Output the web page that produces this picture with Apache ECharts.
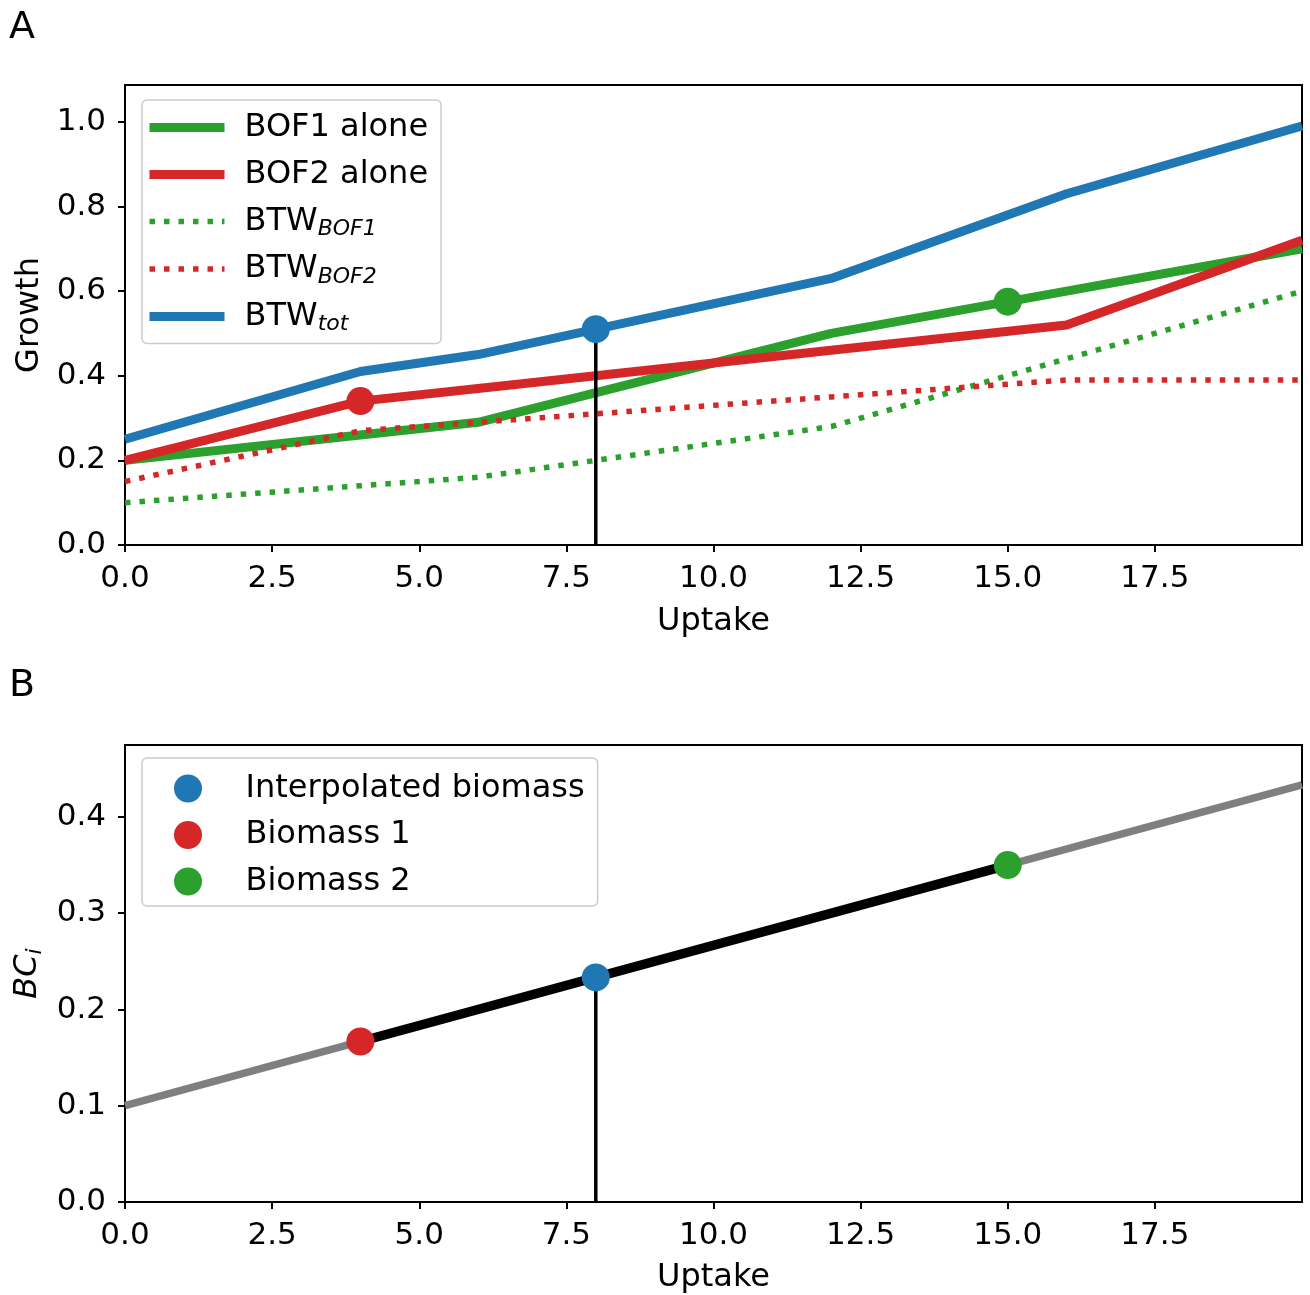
<!DOCTYPE html>
<html>
<head>
<meta charset="utf-8">
<script src="https://cdn.jsdelivr.net/npm/echarts@6/dist/echarts.min.js"></script>
<style>
html,body{margin:0;padding:0;background:#fff;}
#chart{width:1310px;height:1295px;}
</style>
</head>
<body>
<div id="chart"></div>
<script>
// ---------- data ----------
const uptake      = [0, 4, 6, 12, 16, 20];
const bof1Alone   = [0.20, 0.26, 0.29, 0.50, 0.60, 0.70];
const bof2Alone   = [0.20, 0.34, 0.37, 0.46, 0.52, 0.72];
const btwBof1     = [0.10, 0.14, 0.16, 0.28, 0.44, 0.60];
const btwBof2     = [0.15, 0.27, 0.29, 0.35, 0.39, 0.39];
const btwTot      = [0.25, 0.41, 0.45, 0.63, 0.83, 0.99];

const selUptake   = 8;          // interpolation uptake
const bio1Point   = [4, 0.34];  // panel A marker on BOF2 alone
const bio2Point   = [15, 0.575];// panel A marker on BOF1 alone
const totPoint    = [8, 0.51];  // panel A marker on BTW_tot

const bcLineX     = [0, 20];
const bcLineY     = [0.1, 0.4333];
const bcSegX      = [4, 15];
const bcSegY      = [0.1667, 0.35];
const interpPoint = [8, 0.2333];
const bcBio1      = [4, 0.1667];
const bcBio2      = [15, 0.35];

const xTicks  = [0, 2.5, 5, 7.5, 10, 12.5, 15, 17.5];
const yTicksA = [0, 0.2, 0.4, 0.6, 0.8, 1.0];
const yTicksB = [0, 0.1, 0.2, 0.3, 0.4];

// ---------- style ----------
const FONT = 'DejaVu Sans';
const C = {blue:'#1f77b4', green:'#2ca02c', red:'#d62728', gray:'#7f7f7f'};
const zip = (xs, ys) => xs.map((x, i) => [x, ys[i]]);

const chart = echarts.init(document.getElementById('chart'), null, {renderer:'canvas'});

function xAxisCfg(idx, gap) {
  return {
    type:'value', gridIndex: idx, min:0, max:20,
    name:'Uptake', nameLocation:'middle', nameGap:gap,
    nameTextStyle:{fontFamily:FONT, fontSize:32, color:'#000'},
    axisLine:{show:true, onZero:false, lineStyle:{color:'#000', width:2}},
    axisTick:{show:true, inside:false, length:7, lineStyle:{color:'#000', width:2}, customValues:xTicks},
    axisLabel:{show:true, margin:18, fontFamily:FONT, fontSize:31, color:'#000', customValues:xTicks,
      formatter:v => v.toFixed(1)},
    splitLine:{show:false}
  };
}
function yAxisCfg(idx, max, ticks, name, nameRich) {
  const cfg = {
    type:'value', gridIndex: idx, min:0, max:max,
    name:name, nameLocation:'middle', nameGap:75, nameRotate:90,
    nameTextStyle:{fontFamily:FONT, fontSize:32, color:'#000'},
    axisLine:{show:true, onZero:false, lineStyle:{color:'#000', width:2}},
    axisTick:{show:true, inside:false, length:7, lineStyle:{color:'#000', width:2}, customValues:ticks},
    axisLabel:{show:true, margin:19, fontFamily:FONT, fontSize:31, color:'#000', customValues:ticks,
      formatter:v => v.toFixed(1)},
    splitLine:{show:false}
  };
  if (nameRich) cfg.nameTextStyle.rich = nameRich;
  return cfg;
}

function legendFormatter(name) {
  const m = name.match(/^BTW_(.+)$/);
  if (m) return '{m|BTW}{s|' + m[1] + '}';
  return '{m|' + name + '}';
}
const legendRich = {
  m:{fontFamily:FONT, fontSize:32, color:'#000', lineHeight:37, height:37},
  s:{fontFamily:FONT, fontSize:22, fontStyle:'italic', color:'#000', lineHeight:21, height:21, verticalAlign:'bottom'}
};

const option = {
  backgroundColor:'#fff',
  animation:false,
  title:[
    {text:'A', left:4, top:4, textStyle:{fontFamily:FONT, fontSize:38, fontWeight:'normal', color:'#000'}},
    {text:'B', left:4, top:662, textStyle:{fontFamily:FONT, fontSize:38, fontWeight:'normal', color:'#000'}}
  ],
  grid:[
    {left:125, top:85, width:1177, height:460, show:true, borderColor:'#000', borderWidth:2, backgroundColor:'transparent'},
    {left:125, top:745, width:1177, height:459, show:true, borderColor:'#000', borderWidth:2, backgroundColor:'transparent'}
  ],
  xAxis:[xAxisCfg(0, 61), xAxisCfg(1, 60)],
  yAxis:[
    yAxisCfg(0, 1.087, yTicksA, 'Growth'),
    yAxisCfg(1, 0.4747, yTicksB, '{a|BC}{b|i}', {
      a:{fontFamily:FONT, fontSize:32, fontStyle:'italic', color:'#000', lineHeight:37},
      b:{fontFamily:FONT, fontSize:22, fontStyle:'italic', color:'#000', lineHeight:22, verticalAlign:'bottom'}
    })
  ],
  legend:[
    {
      orient:'vertical', left:142, top:100,
      itemWidth:75, itemHeight:14, itemGap:10,
      padding:[9, 13, 8, 3],
      backgroundColor:'rgba(255,255,255,0.85)', borderColor:'#cccccc', borderWidth:1.5, borderRadius:5,
      lineStyle:{width:'inherit', type:'inherit'},
      itemStyle:{opacity:0},
      data:['BOF1 alone','BOF2 alone','BTW_BOF1','BTW_BOF2','BTW_tot'],
      formatter:legendFormatter,
      textStyle:{padding:[0,0,0,15], lineHeight:37, height:37, rich:legendRich},
      selectedMode:false
    },
    {
      orient:'vertical', left:142, top:758,
      itemWidth:75, itemHeight:28, itemGap:9.5,
      padding:[12, 13, 6, 32],
      icon:'circle',
      backgroundColor:'rgba(255,255,255,0.85)', borderColor:'#cccccc', borderWidth:1.5, borderRadius:5,
      data:['Interpolated biomass','Biomass 1','Biomass 2'],
      formatter:legendFormatter,
      textStyle:{padding:[0,0,0,15], lineHeight:37, height:37, rich:legendRich},
      selectedMode:false
    }
  ],
  series:[
    // ----- panel A -----
    {name:'BOF1 alone', type:'line', xAxisIndex:0, yAxisIndex:0, symbol:'none', clip:true, z:2,
      data:zip(uptake, bof1Alone), lineStyle:{color:C.green, width:9, join:'round'}, itemStyle:{color:C.green}},
    {name:'BOF2 alone', type:'line', xAxisIndex:0, yAxisIndex:0, symbol:'none', clip:true, z:2,
      data:zip(uptake, bof2Alone), lineStyle:{color:C.red, width:9, join:'round'}, itemStyle:{color:C.red}},
    {name:'BTW_BOF1', type:'line', xAxisIndex:0, yAxisIndex:0, symbol:'none', clip:true, z:2,
      data:zip(uptake, btwBof1), lineStyle:{color:C.green, width:5.5, type:[5.5, 9], cap:'butt'}, itemStyle:{color:C.green}},
    {name:'BTW_BOF2', type:'line', xAxisIndex:0, yAxisIndex:0, symbol:'none', clip:true, z:2,
      data:zip(uptake, btwBof2), lineStyle:{color:C.red, width:5.5, type:[5.5, 9], cap:'butt'}, itemStyle:{color:C.red}},
    {name:'BTW_tot', type:'line', xAxisIndex:0, yAxisIndex:0, symbol:'none', clip:true, z:2,
      data:zip(uptake, btwTot), lineStyle:{color:C.blue, width:9, join:'round'}, itemStyle:{color:C.blue}},
    {name:'vlineA', type:'line', xAxisIndex:0, yAxisIndex:0, symbol:'none', z:3,
      data:[[selUptake, 0], [selUptake, totPoint[1]]], lineStyle:{color:'#000', width:3.5}},
    {name:'markA1', type:'scatter', xAxisIndex:0, yAxisIndex:0, symbolSize:28, z:4,
      data:[bio1Point], itemStyle:{color:C.red, opacity:1}},
    {name:'markA2', type:'scatter', xAxisIndex:0, yAxisIndex:0, symbolSize:28, z:4,
      data:[totPoint], itemStyle:{color:C.blue, opacity:1}},
    {name:'markA3', type:'scatter', xAxisIndex:0, yAxisIndex:0, symbolSize:28, z:4,
      data:[bio2Point], itemStyle:{color:C.green, opacity:1}},
    // ----- panel B -----
    {name:'bcLine', type:'line', xAxisIndex:1, yAxisIndex:1, symbol:'none', clip:true, z:2,
      data:zip(bcLineX, bcLineY), lineStyle:{color:C.gray, width:7.5}},
    {name:'bcSeg', type:'line', xAxisIndex:1, yAxisIndex:1, symbol:'none', z:2,
      data:zip(bcSegX, bcSegY), lineStyle:{color:'#000', width:9.5}},
    {name:'vlineB', type:'line', xAxisIndex:1, yAxisIndex:1, symbol:'none', z:3,
      data:[[selUptake, 0], [selUptake, interpPoint[1]]], lineStyle:{color:'#000', width:3.5}},
    {name:'Interpolated biomass', type:'scatter', xAxisIndex:1, yAxisIndex:1, symbol:'circle', symbolSize:28, z:4,
      data:[interpPoint], itemStyle:{color:C.blue, opacity:1}},
    {name:'Biomass 1', type:'scatter', xAxisIndex:1, yAxisIndex:1, symbol:'circle', symbolSize:28, z:4,
      data:[bcBio1], itemStyle:{color:C.red, opacity:1}},
    {name:'Biomass 2', type:'scatter', xAxisIndex:1, yAxisIndex:1, symbol:'circle', symbolSize:28, z:4,
      data:[bcBio2], itemStyle:{color:C.green, opacity:1}}
  ]
};
chart.setOption(option);
</script>
</body>
</html>
